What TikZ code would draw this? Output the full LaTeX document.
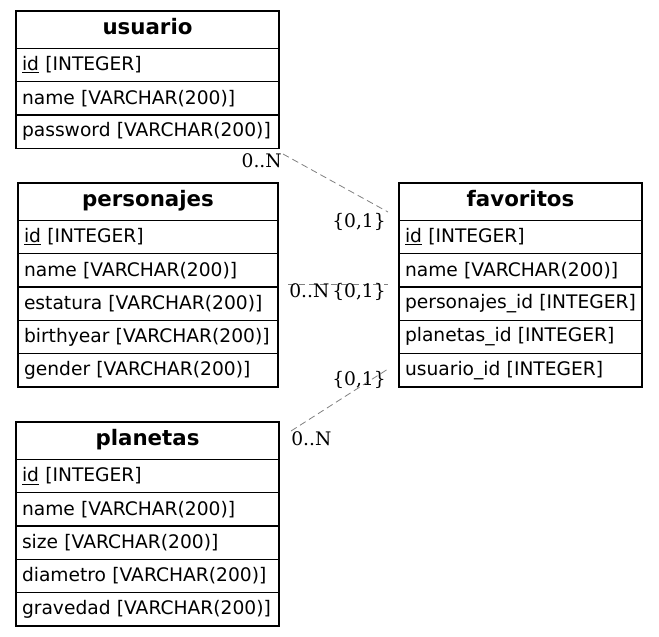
\documentclass[tikz,border=0pt]{standalone}
\usepackage{fontspec}
\setmainfont{DejaVu Sans}
\newfontfamily\cardfont{DejaVu Serif}
\usetikzlibrary{positioning}

\tikzset{
  tblhead/.style={draw, line width=0.8pt, outer sep=0pt, anchor=north west, minimum width=#1,
    minimum height=28pt, inner sep=0pt, text height=11pt, text depth=4pt,
    font=\fontsize{16}{19}\selectfont\bfseries},
  tblrow/.style={draw, line width=0.8pt, outer sep=0pt, text width=#1, align=left, inner xsep=4.5pt,
    inner ysep=0pt, minimum height=25pt, font=\fontsize{14}{17}\selectfont},
  rel/.style={draw=gray, dash pattern=on 5pt off 3pt, line width=0.6pt},
  card/.style={inner sep=0pt, font=\cardfont\fontsize{14}{17}\selectfont}
}

\begin{document}
\begin{tikzpicture}[x=0.75pt, y=-0.75pt]
  \useasboundingbox (0,0) rectangle (659,636);
  % usuario
  \node[tblhead=197.25pt] (usuario) at (16,11) {usuario};
  \node[tblrow=188.25pt, below=0pt of usuario] (usuario-id) {\underline{id} [INTEGER]};
  \node[tblrow=188.25pt, below=0pt of usuario-id] (usuario-name) {name [VARCHAR(200)]};
  \node[tblrow=188.25pt, below=0pt of usuario-name] (usuario-pw) {password [VARCHAR(200)]};
  % personajes
  \node[tblhead=195pt] (personajes) at (18,183) {personajes};
  \node[tblrow=186pt, below=0pt of personajes] (pers-id) {\underline{id} [INTEGER]};
  \node[tblrow=186pt, below=0pt of pers-id] (pers-name) {name [VARCHAR(200)]};
  \node[tblrow=186pt, below=0pt of pers-name] (pers-est) {estatura [VARCHAR(200)]};
  \node[tblrow=186pt, below=0pt of pers-est] (pers-birth) {birthyear [VARCHAR(200)]};
  \node[tblrow=186pt, below=0pt of pers-birth] (pers-gender) {gender [VARCHAR(200)]};
  % favoritos
  \node[tblhead=182.25pt] (favoritos) at (399,183) {favoritos};
  \node[tblrow=173.25pt, below=0pt of favoritos] (fav-id) {\underline{id} [INTEGER]};
  \node[tblrow=173.25pt, below=0pt of fav-id] (fav-name) {name [VARCHAR(200)]};
  \node[tblrow=173.25pt, below=0pt of fav-name] (fav-pers) {personajes\_id [INTEGER]};
  \node[tblrow=173.25pt, below=0pt of fav-pers] (fav-plan) {planetas\_id [INTEGER]};
  \node[tblrow=173.25pt, below=0pt of fav-plan] (fav-user) {usuario\_id [INTEGER]};
  % planetas
  \node[tblhead=197.25pt] (planetas) at (16,422) {planetas};
  \node[tblrow=188.25pt, below=0pt of planetas] (plan-id) {\underline{id} [INTEGER]};
  \node[tblrow=188.25pt, below=0pt of plan-id] (plan-name) {name [VARCHAR(200)]};
  \node[tblrow=188.25pt, below=0pt of plan-name] (plan-size) {size [VARCHAR(200)]};
  \node[tblrow=188.25pt, below=0pt of plan-size] (plan-diam) {diametro [VARCHAR(200)]};
  \node[tblrow=188.25pt, below=0pt of plan-diam] (plan-grav) {gravedad [VARCHAR(200)]};

  % relations
  \coordinate (usuario-out) at (283,154);
  \coordinate (fav-in-u) at (388,212);
  \coordinate (pers-out) at (288,284);
  \coordinate (fav-in-p) at (388,284);
  \coordinate (plan-out) at (291,431);
  \coordinate (fav-in-pl) at (388,369);
  \draw[rel] (usuario-out) -- (fav-in-u);
  \draw[rel] (pers-out) -- (fav-in-p);
  \draw[rel] (plan-out) -- (fav-in-pl);
  \node[card, anchor=base east] (u-many) at (282,167) {0..N};
  \node[card, anchor=base east] (u-one) at (386,227) {\{0,1\}};
  \node[card, anchor=base west] (p-many) at (289,297) {0..N};
  \node[card, anchor=base east] (p-one) at (386,297) {\{0,1\}};
  \node[card, anchor=base east] (pl-one) at (386,385) {\{0,1\}};
  \node[card, anchor=base west] (pl-many) at (291,445) {0..N};
\end{tikzpicture}
\end{document}
